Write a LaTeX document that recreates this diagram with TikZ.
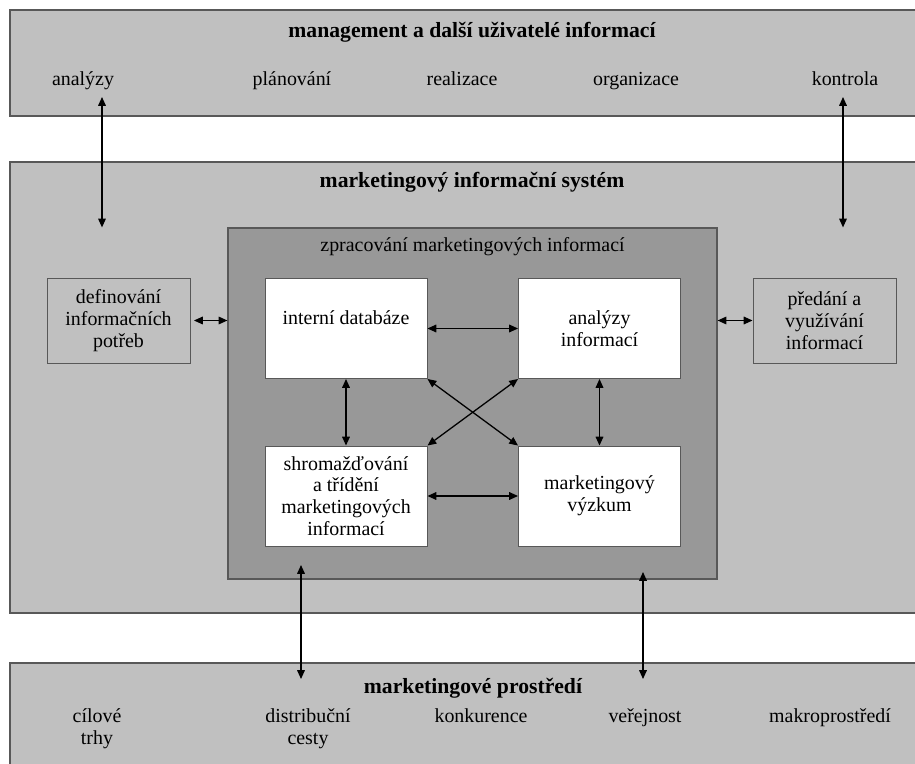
\documentclass[tikz,border=0pt]{standalone}
\usepackage{fontspec}
\setmainfont{Liberation Serif}
\usetikzlibrary{arrows.meta}

\definecolor{panelgray}{RGB}{192,192,192}
\definecolor{coregray}{RGB}{152,152,152}
\definecolor{edgegray}{RGB}{88,88,88}

\tikzset{
	panel/.style={draw=edgegray, line width=1pt, fill=panelgray, inner sep=0pt, minimum width=27.45cm},
	corebox/.style={draw=edgegray, line width=1pt, fill=coregray, inner sep=0pt, minimum width=14.67cm, minimum height=10.53cm},
	unitbox/.style={draw=edgegray, line width=0.8pt, fill=white, inner sep=0pt, minimum width=4.86cm, minimum height=3cm, align=center, font=\fontsize{17}{18.5}\selectfont},
	sidebox/.style={draw=edgegray, line width=0.8pt, fill=panelgray, inner sep=0pt, minimum width=4.29cm, minimum height=2.55cm, align=center, font=\fontsize{17}{18.5}\selectfont},
	heading/.style={font=\bfseries\fontsize{18.5}{20}\selectfont, inner sep=0pt},
	item/.style={font=\fontsize{17}{18.5}\selectfont, inner sep=0pt, align=center, anchor=north},
	biarrow/.style={line width=1.1pt, {Triangle[length=7.5pt,width=6.5pt]}-{Triangle[length=7.5pt,width=6.5pt]}}
}

\begin{document}
\begin{tikzpicture}[x=0.03cm, y=-0.03cm]
	\useasboundingbox (0,0) rectangle (915,764);

	\node[panel, minimum height=3.18cm] (mgmt) at (467.5,63) {};
	\node[heading] (mgmttitle) at (472,32) {management a další uživatelé informací};
	\node[item] (analyzy) at (83,70) {\strut analýzy};
	\node[item] (planovani) at (292,70) {\strut plánování};
	\node[item] (realizace) at (462,70) {\strut realizace};
	\node[item] (organizace) at (636,70) {\strut organizace};
	\node[item] (kontrola) at (845,70) {\strut kontrola};

	\node[panel, minimum height=13.53cm] (mis) at (467.5,387.5) {};
	\node[heading] (mistitle) at (472,182) {marketingový informační systém};

	\node[corebox] (core) at (472.5,403.5) {};
	\node[item] (coretitle) at (472.5,236) {\strut zpracování marketingových informací};

	\node[unitbox] (databaze) at (346,328.5) {interní databáze\\\mbox{}};
	\node[unitbox] (analyza) at (599.5,328.5) {analýzy\\informací};
	\node[unitbox] (sber) at (346,496) {shromažďování\\a třídění\\marketingových\\informací};
	\node[unitbox] (vyzkum) at (599.5,496) {marketingový\\výzkum};

	\node[sidebox] (potreby) at (118.5,320.5) {definování\\informačních\\potřeb};
	\node[sidebox] (predani) at (824.5,320.5) {předání a\\využívání\\informací};

	\node[panel, minimum height=4.11cm] (env) at (467.5,731.5) {};
	\node[heading] (envtitle) at (473,688) {marketingové prostředí};
	\node[item] (trhy) at (97,707) {\strut cílové\\trhy};
	\node[item] (cesty) at (308,707) {\strut distribuční\\cesty};
	\node[item] (konkurence) at (481,707) {\strut konkurence};
	\node[item] (verejnost) at (645,707) {\strut veřejnost};
	\node[item] (makro) at (830,707) {\strut makroprostředí};

	\coordinate (upL) at (102,97);
	\coordinate (upR) at (843,97);
	\coordinate (downL) at (301,565);
	\coordinate (downR) at (643,572);
	\coordinate (envL) at (301,679);
	\coordinate (envR) at (643,679);

	\draw[biarrow] (upL) -- (upL |- core.north);
	\draw[biarrow] (upR) -- (upR |- core.north);
	\draw[biarrow] (downL) -- (envL);
	\draw[biarrow] (downR) -- (envR);

	\draw[biarrow] ([xshift=3pt]potreby.east) -- (core.west |- potreby.east);
	\draw[biarrow] (core.east |- predani.west) -- (predani.west);

	\draw[biarrow] (databaze.east) -- (analyza.west);
	\draw[biarrow] (sber.east) -- (vyzkum.west);
	\draw[biarrow] (databaze.south) -- (sber.north);
	\draw[biarrow] (analyza.south) -- (vyzkum.north);
	\draw[biarrow] (databaze.south east) -- (vyzkum.north west);
	\draw[biarrow] (analyza.south west) -- (sber.north east);
\end{tikzpicture}
\end{document}
